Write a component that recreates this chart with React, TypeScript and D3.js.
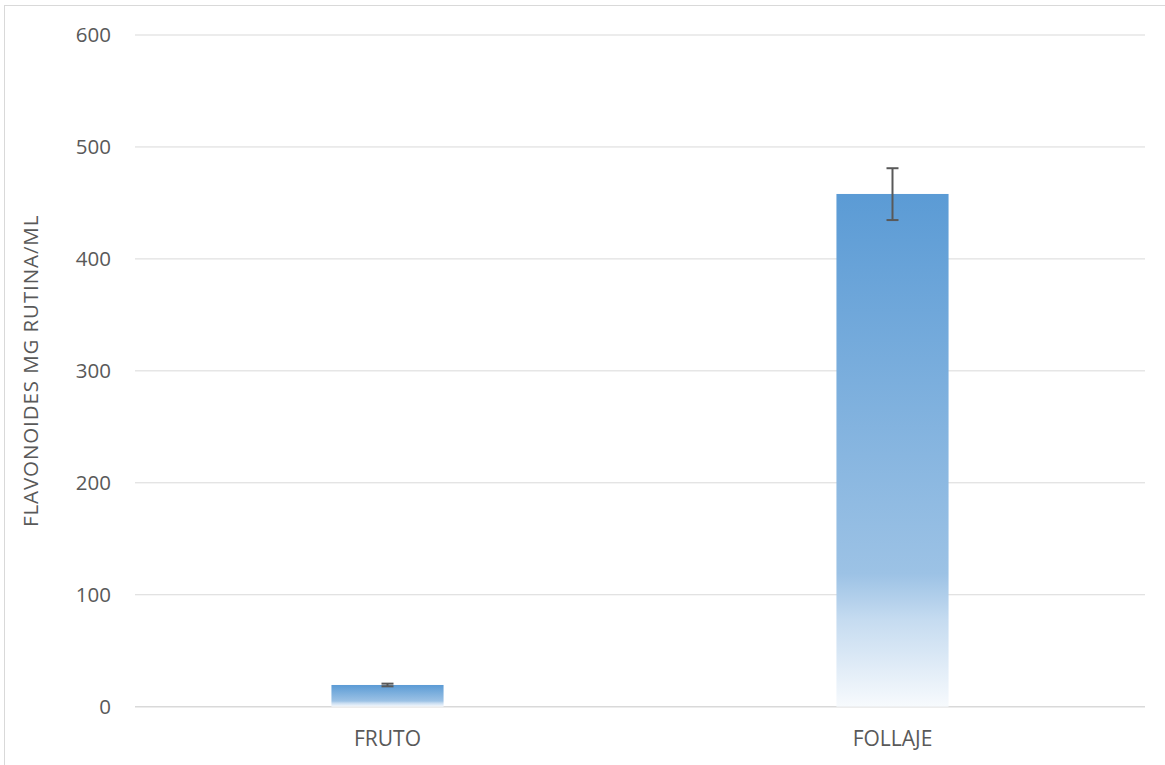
import React from "react";
import * as d3 from "d3";

const categories = ["FRUTO", "FOLLAJE"];
const values = [19.4, 458];
const errLow = [18.2, 434.7];
const errHigh = [20.6, 481];
const yTicks = [0, 100, 200, 300, 400, 500, 600];
const yLabel = "FLAVONOIDES MG RUTINA/ML";

const W = 1165;
const H = 765;
const left = 135;
const right = 1145;
const top = 35;
const bottom = 706.7;

export default function App() {
  const x = d3.scaleBand<string>().domain(categories).range([left, right]).padding(0);
  const y = d3.scaleLinear().domain([0, 600]).range([bottom, top]);
  const barW = x.bandwidth() * 0.222;
  const font = "'Open Sans', sans-serif";
  const textColor = "#595959";
  return (
    <svg
      width={W}
      height={H}
      style={{ position: "absolute", left: 0, top: 0, background: "#fff" }}
      fontFamily={font}
    >
      <defs>
        <linearGradient id="barGrad" x1="0" y1="0" x2="0" y2="1">
          <stop offset="0" stopColor="#5b9bd5" />
          <stop offset="0.74" stopColor="#9cc2e5" />
          <stop offset="0.83" stopColor="#c5dbf0" />
          <stop offset="1" stopColor="#f7fafd" />
        </linearGradient>
      </defs>
      <rect x={4.5} y={5.5} width={1300} height={900} fill="#fff" stroke="#d9d9d9" strokeWidth={1} />
      {yTicks.map((t) => (
        <g key={t}>
          <line
            x1={left}
            x2={right}
            y1={y(t)}
            y2={y(t)}
            stroke="#d9d9d9"
            strokeWidth={t === 0 ? 1.5 : 1}
          />
          <text
            x={111}
            y={y(t)}
            dy="0.35em"
            textAnchor="end"
            fontSize={20.5}
            fill={textColor}
          >
            {t}
          </text>
        </g>
      ))}
      {categories.map((c, i) => {
        const cx = (x(c) as number) + x.bandwidth() / 2;
        return (
          <g key={c}>
            <rect
              x={cx - barW / 2}
              y={y(values[i])}
              width={barW}
              height={y(0) - y(values[i])}
              fill="url(#barGrad)"
            />
            <line x1={cx} x2={cx} y1={y(errHigh[i])} y2={y(errLow[i])} stroke="#595959" strokeWidth={2} />
            <line x1={cx - 6} x2={cx + 6} y1={y(errHigh[i])} y2={y(errHigh[i])} stroke="#595959" strokeWidth={2} />
            <line x1={cx - 6} x2={cx + 6} y1={y(errLow[i])} y2={y(errLow[i])} stroke="#595959" strokeWidth={2} />
            <text x={cx} y={746} textAnchor="middle" fontSize={21} fill={textColor}>
              {c}
            </text>
          </g>
        );
      })}
      <text
        transform={`translate(38, ${(top + bottom) / 2}) rotate(-90)`}
        textAnchor="middle"
        fontSize={20.5}
        letterSpacing={0.9}
        fill={textColor}
      >
        {yLabel}
      </text>
    </svg>
  );
}
